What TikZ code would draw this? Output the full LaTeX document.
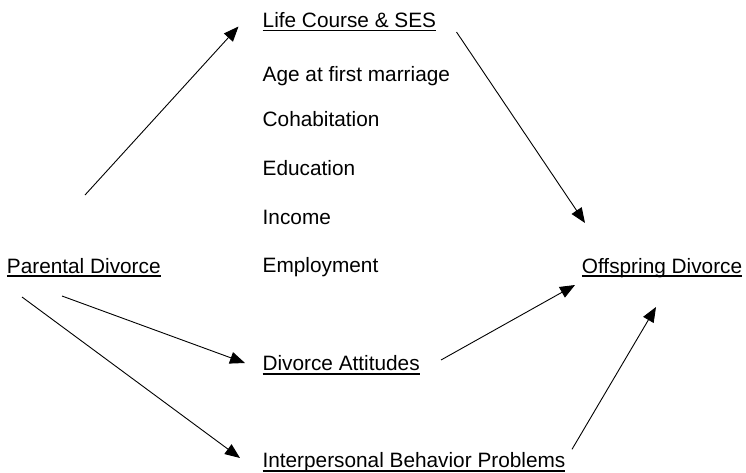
\documentclass[tikz,border=0pt]{standalone}
\usepackage{fontspec}
\setmainfont{Liberation Sans}
\usetikzlibrary{arrows.meta}
\newcommand{\ulbox}[1]{\setbox0\hbox{#1}\rlap{\rule[-3.9pt]{\wd0}{1.8pt}}\box0}
\begin{document}
\begin{tikzpicture}[x=1pt,y=-1pt,
  lbl/.style={inner sep=0pt,anchor=base west,font=\fontsize{20.8}{25}\selectfont},
  conn/.style={line width=0.9pt,-{Triangle[length=15pt,width=12pt]}}]
\useasboundingbox (0,0) rectangle (746,472);
% nodes
\node[lbl] (lc) at (262.5,27.5) {\ulbox{Life Course \& SES}};
\node[lbl] (age) at (262.5,81.7) {Age at first marriage};
\node[lbl] (cohab) at (262.5,126) {Cohabitation};
\node[lbl] (edu) at (262.5,175) {Education};
\node[lbl] (inc) at (262.5,224) {Income};
\node[lbl] (emp) at (262.5,272.5) {Employment};
\node[lbl] (pd) at (6.7,273) {\ulbox{Parental Divorce}};
\node[lbl] (od) at (581.7,273) {\ulbox{Offspring Divorce}};
\node[lbl] (da) at (262.3,370.7) {\ulbox{Divorce Attitudes}};
\node[lbl] (ibp) at (262.3,467.7) {\ulbox{Interpersonal Behavior Problems}};
% connector end points
\coordinate (pd-a) at (85,195);
\coordinate (lc-in) at (238.5,26.5);
\coordinate (lc-out) at (456.5,32);
\coordinate (od-a) at (585,223);
\coordinate (pd-b) at (62,296);
\coordinate (da-in) at (245,363);
\coordinate (pd-c) at (22,297);
\coordinate (ibp-in) at (240,458);
\coordinate (da-out) at (441,360);
\coordinate (od-b) at (575,285);
\coordinate (ibp-out) at (572,449.3);
\coordinate (od-c) at (656,307);
% connectors
\draw[conn] (pd-a) -- (lc-in);
\draw[conn] (lc-out) -- (od-a);
\draw[conn] (pd-b) -- (da-in);
\draw[conn] (pd-c) -- (ibp-in);
\draw[conn] (da-out) -- (od-b);
\draw[conn] (ibp-out) -- (od-c);
\end{tikzpicture}
\end{document}
